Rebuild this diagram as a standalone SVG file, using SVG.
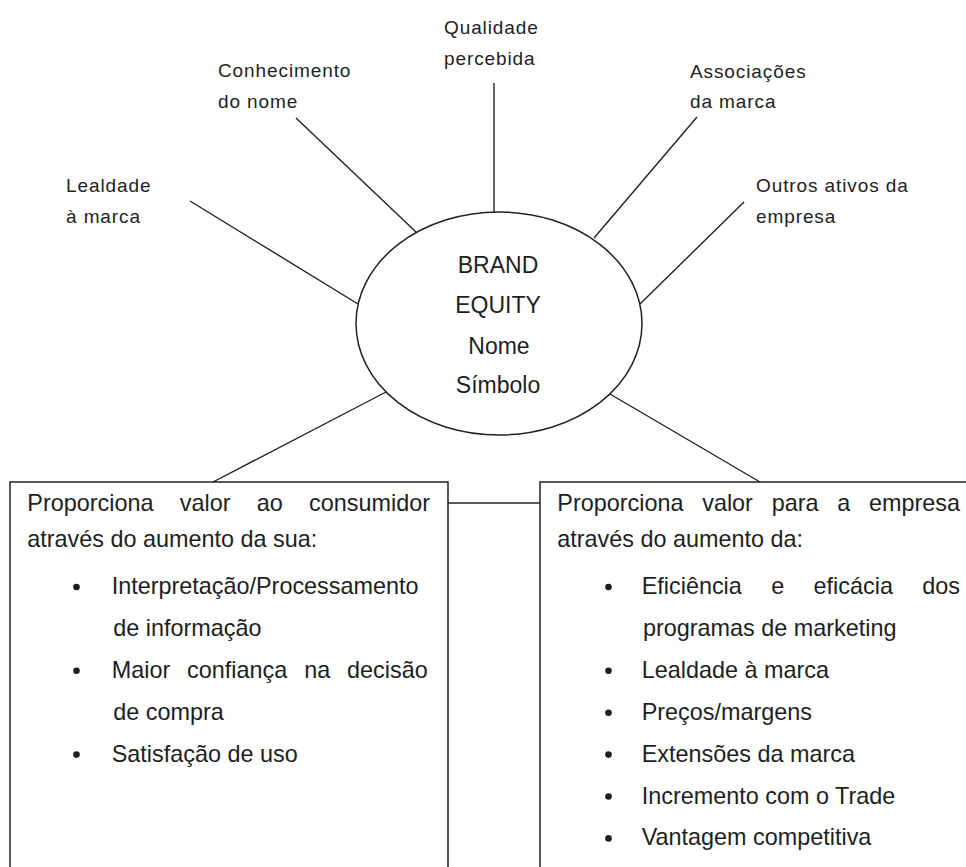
<svg xmlns="http://www.w3.org/2000/svg" width="966" height="867" viewBox="0 0 966 867">
  <style>
    .bg { fill: #ffffff; }
    .lbl { font-family: "Liberation Sans", Arial, sans-serif; font-size: 19px; letter-spacing: 0.9px; fill: #222222; }
    .big { font-family: "Liberation Sans", Arial, sans-serif; font-size: 23px; fill: #1e1e1e; text-anchor: middle; }
    .box-text { font-family: "Liberation Sans", Arial, sans-serif; font-size: 23.4px; fill: #1e1e1e; }
    .shape { fill: #ffffff; stroke: #222222; stroke-width: 1.5; }
    .conn line { stroke: #222222; stroke-width: 1.4; fill: none; }
    .dot { fill: #1e1e1e; }
  </style>
  <rect class="bg" x="0" y="0" width="966" height="867"/>

  <g id="connectors" class="conn">
    <line x1="190" y1="201" x2="358" y2="304"/>
    <line x1="296" y1="118" x2="416" y2="232"/>
    <line x1="494" y1="83" x2="494" y2="212"/>
    <line x1="697" y1="117" x2="594" y2="238"/>
    <line x1="744" y1="202" x2="640" y2="304"/>
    <line x1="386" y1="392" x2="213" y2="482"/>
    <line x1="610" y1="394" x2="760" y2="482"/>
    <line x1="448" y1="503" x2="540" y2="503"/>
  </g>

  <g id="label-lealdade">
    <text class="lbl" x="66" y="192">Lealdade</text>
    <text class="lbl" x="66" y="223">à marca</text>
  </g>
  <g id="label-conhecimento">
    <text class="lbl" x="218" y="77">Conhecimento</text>
    <text class="lbl" x="218" y="108">do nome</text>
  </g>
  <g id="label-qualidade">
    <text class="lbl" x="444" y="34">Qualidade</text>
    <text class="lbl" x="444" y="65">percebida</text>
  </g>
  <g id="label-associacoes">
    <text class="lbl" x="690" y="78">Associações</text>
    <text class="lbl" x="690" y="108">da marca</text>
  </g>
  <g id="label-outros">
    <text class="lbl" x="756" y="192">Outros ativos da</text>
    <text class="lbl" x="756" y="223">empresa</text>
  </g>

  <g id="node-brand-equity">
    <ellipse class="shape" cx="499" cy="323.5" rx="143" ry="111.5"/>
    <text class="big" x="498" y="273">BRAND</text>
    <text class="big" x="498" y="313">EQUITY</text>
    <text class="big" x="499" y="354">Nome</text>
    <text class="big" x="498" y="393">Símbolo</text>
  </g>

  <g id="box-consumidor">
    <rect class="shape" x="10" y="482" width="438" height="400"/>
    <text class="box-text" y="511"><tspan x="27.3">Proporciona</tspan><tspan x="179.8">valor</tspan><tspan x="256.8">ao</tspan><tspan x="309.1">consumidor</tspan></text>
    <text class="box-text" x="27.3" y="547">através do aumento da sua:</text>
    <circle class="dot" cx="76.5" cy="587" r="3.3"/>
    <text class="box-text" x="111.7" y="594">Interpretação/Processamento</text>
    <text class="box-text" x="113.3" y="635.9">de informação</text>
    <circle class="dot" cx="76.5" cy="670.8" r="3.3"/>
    <text class="box-text" y="677.8"><tspan x="111.7">Maior</tspan><tspan x="187.1">confiança</tspan><tspan x="304.2">na</tspan><tspan x="347.1">decisão</tspan></text>
    <text class="box-text" x="113.3" y="719.7">de compra</text>
    <circle class="dot" cx="76.5" cy="754.6" r="3.3"/>
    <text class="box-text" x="111.7" y="761.6">Satisfação de uso</text>
  </g>

  <g id="box-empresa">
    <rect class="shape" x="540" y="482" width="440" height="400"/>
    <text class="box-text" y="511"><tspan x="557.3">Proporciona</tspan><tspan x="702.2">valor</tspan><tspan x="771.7">para</tspan><tspan x="837.2">a</tspan><tspan x="869">empresa</tspan></text>
    <text class="box-text" x="557.3" y="547">através do aumento da:</text>
    <circle class="dot" cx="608.5" cy="587" r="3.3"/>
    <text class="box-text" y="594"><tspan x="641.7">Eficiência</tspan><tspan x="771.2">e</tspan><tspan x="813.6">eficácia</tspan><tspan x="922.3">dos</tspan></text>
    <text class="box-text" x="643" y="635.9">programas de marketing</text>
    <circle class="dot" cx="608.5" cy="670.8" r="3.3"/>
    <text class="box-text" x="641.7" y="677.8">Lealdade à marca</text>
    <circle class="dot" cx="608.5" cy="712.7" r="3.3"/>
    <text class="box-text" x="641.7" y="719.7">Preços/margens</text>
    <circle class="dot" cx="608.5" cy="754.6" r="3.3"/>
    <text class="box-text" x="641.7" y="761.6">Extensões da marca</text>
    <circle class="dot" cx="608.5" cy="796.5" r="3.3"/>
    <text class="box-text" x="641.7" y="803.5">Incremento com o Trade</text>
    <circle class="dot" cx="608.5" cy="838.4" r="3.3"/>
    <text class="box-text" x="641.7" y="845.4">Vantagem competitiva</text>
  </g>
</svg>
